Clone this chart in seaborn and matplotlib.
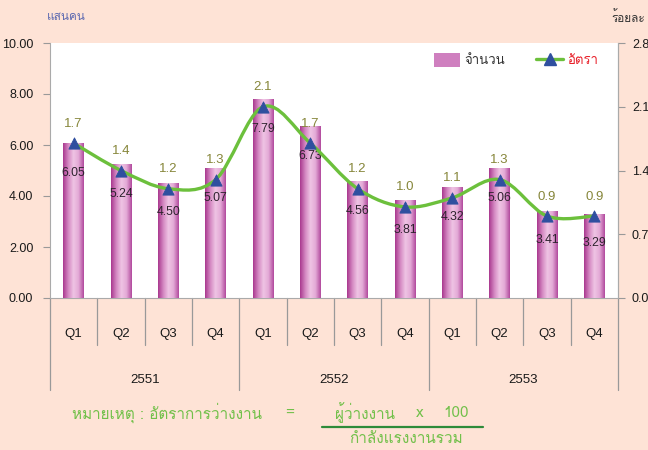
import numpy as np
import pandas as pd
import seaborn as sns
import matplotlib.pyplot as plt
from matplotlib import font_manager, transforms
from matplotlib.path import Path
from matplotlib.patches import PathPatch, Patch
from matplotlib.lines import Line2D
from matplotlib.colors import LinearSegmentedColormap

years = ['2551', '2552', '2553']
quarters = ['Q1', 'Q2', 'Q3', 'Q4']
unemployed = [6.05, 5.24, 4.50, 5.07, 7.79, 6.73, 4.56, 3.81, 4.32, 5.06, 3.41, 3.29]
rate = [1.7, 1.4, 1.2, 1.3, 2.1, 1.7, 1.2, 1.0, 1.1, 1.3, 0.9, 0.9]
left_ticks = [0, 2, 4, 6, 8, 10]
right_ticks = [0, 0.7, 1.4, 2.1, 2.8]


def thai_font():
    # look for an installed family that has Thai glyphs
    from fontTools.ttLib import TTFont
    for f in font_manager.fontManager.ttflist:
        try:
            cmap = TTFont(f.fname, fontNumber=0, lazy=True).getBestCmap()
        except Exception:
            continue
        if cmap and 0x0E01 in cmap:
            return f.name
    return None


BG = '#fee3d6'
NUM = 'Liberation Sans'
sns.set_style('white')
tf = thai_font()
plt.rcParams['font.family'] = ([tf] if tf else []) + ['DejaVu Sans']

df = pd.DataFrame({
    'period': [y + ' ' + q for y in years for q in quarters],
    'unemployed': unemployed,
    'rate': rate,
})

fig = plt.figure(figsize=(6.48, 4.5), dpi=100, facecolor=BG)
ax = fig.add_axes([50 / 648, 1 - 298 / 450, 568 / 648, 255 / 450])
ax.set_facecolor('white')

sns.barplot(data=df, x='period', y='unemployed', color='#c86cb4', width=0.44,
            ax=ax, zorder=2)

# gradient fill over the bars
cmap = LinearSegmentedColormap.from_list(
    'bar', ['#a9398f', '#d488c2', '#efc4e4', '#e3a9d6', '#b24a9e'])
grad = np.linspace(0, 1, 64).reshape(1, -1)
for p in list(ax.patches):
    x0, y0, w, h = p.get_x(), p.get_y(), p.get_width(), p.get_height()
    ax.imshow(grad, cmap=cmap, extent=[x0, x0 + w, y0, y0 + h], aspect='auto', zorder=3)
    ax.annotate('%.2f' % h, (x0 + w / 2, h), xytext=(0, -21), textcoords='offset points',
                ha='center', va='center', fontsize=8.8, color='#2e222e', zorder=6,
                family=NUM)

ax.set_xlim(-0.5, 11.5)
ax.set_ylim(0, 10)
ax.set_yticks(left_ticks)
ax.set_yticklabels(['%.2f' % v for v in left_ticks], fontsize=9, color='#1a1a1a',
                   family=NUM)
ax.set_xticks([])
ax.set_xlabel('')
ax.set_ylabel('')
ax.tick_params(axis='y', direction='out', length=5, color='#999999', left=True, pad=7)
ax.spines['top'].set_visible(False)
for s in ['left', 'bottom', 'right']:
    ax.spines[s].set_color('#aaaaaa')

ax2 = ax.twinx()
ax2.set_ylim(0, 2.8)
ax2.set_yticks(right_ticks)
ax2.set_yticklabels(['%.1f' % v for v in right_ticks], fontsize=9, color='#1a1a1a',
                    family=NUM)
ax2.tick_params(axis='y', direction='out', length=5, color='#999999', right=True, pad=5)
for s in ['top', 'left', 'bottom']:
    ax2.spines[s].set_visible(False)
ax2.spines['right'].set_color('#aaaaaa')

# smoothed rate line (bezier through the points)
xs = np.arange(len(rate), dtype=float)
pts = np.column_stack([xs, rate])
verts = [pts[0]]
codes = [Path.MOVETO]
n = len(pts)
for i in range(n - 1):
    p0 = pts[max(i - 1, 0)]
    p1, p2 = pts[i], pts[i + 1]
    p3 = pts[min(i + 2, n - 1)]
    verts += [p1 + (p2 - p0) / 6, p2 - (p3 - p1) / 6, p2]
    codes += [Path.CURVE4] * 3
ax2.add_patch(PathPatch(Path(verts, codes), facecolor='none', edgecolor='#6cc03c',
                        lw=2.4, zorder=4))
sns.scatterplot(x=xs, y=rate, marker='^', s=65, color='#2f4f9f', edgecolor='#2f4f9f',
                ax=ax2, zorder=5)
for x, r in zip(xs, rate):
    ax2.annotate('%.1f' % r, (x, r), xytext=(0, 14), textcoords='offset points',
                 ha='center', va='center', fontsize=9.5, color='#86863a', family=NUM)
ax2.set_xlim(-0.5, 11.5)

# two-level category axis
tr = transforms.blended_transform_factory(ax.transData, ax.transAxes)
for i in range(len(df) + 1):
    b = i - 0.5
    bottom = -0.361 if i % 4 == 0 else -0.184
    ax.plot([b, b], [0, bottom], transform=tr, color='#999999', lw=0.9, clip_on=False)
for i, q in enumerate(quarters * len(years)):
    ax.text(i, -0.14, q, transform=tr, ha='center', va='center', fontsize=9.5,
            color='#1a1a1a', family=NUM)
for j, y in enumerate(years):
    ax.text(j * 4 + 1.5, -0.322, y, transform=tr, ha='center', va='center', fontsize=9.5,
            color='#1a1a1a', family=NUM)

handles = [Patch(facecolor='#cf7fbf', edgecolor='none'),
           Line2D([], [], color='#6cc03c', lw=2.4, marker='^', markersize=8,
                  markerfacecolor='#2f4f9f', markeredgecolor='#2f4f9f')]
leg = ax2.legend(handles, ['จำนวน', 'อัตรา'], ncol=2, frameon=False, loc='center right',
                 bbox_to_anchor=(0.985, 0.933), fontsize=9.5, handlelength=2.0,
                 handleheight=1.2, columnspacing=2.4, handletextpad=0.3)
leg.get_texts()[0].set_color('#333333')
leg.get_texts()[1].set_color('#e8202a')

fig.text(47 / 648, 1 - 17 / 450, 'แสนคน', fontsize=8.5, color='#5b68b0', va='center')
fig.text(645 / 648, 1 - 17 / 450, 'ร้อยละ', fontsize=8.5, color='#333333', va='center',
         ha='right')

note_c = '#72c04a'
fs = 11
fig.text(72 / 648, 1 - 413 / 450, 'หมายเหตุ : อัตราการว่างงาน', fontsize=fs, color=note_c,
         va='center')
fig.text(290 / 648, 1 - 413 / 450, '=', fontsize=fs, color=note_c, va='center', ha='center')
fig.text(365 / 648, 1 - 413 / 450, 'ผู้ว่างงาน', fontsize=fs, color=note_c, va='center',
         ha='center')
fig.text(420 / 648, 1 - 413 / 450, 'x', fontsize=fs, color=note_c, va='center', ha='center')
fig.text(456 / 648, 1 - 413 / 450, '100', fontsize=fs, color=note_c, va='center', ha='center')
fig.add_artist(Line2D([322 / 648, 483 / 648], [1 - 427 / 450, 1 - 427 / 450],
                      color='#2e8b3a', lw=1.6))
fig.text(406 / 648, 1 - 439 / 450, 'กำลังแรงงานรวม', fontsize=fs, color=note_c,
         va='center', ha='center')

fig.savefig('out.png', dpi=100, facecolor=BG)
